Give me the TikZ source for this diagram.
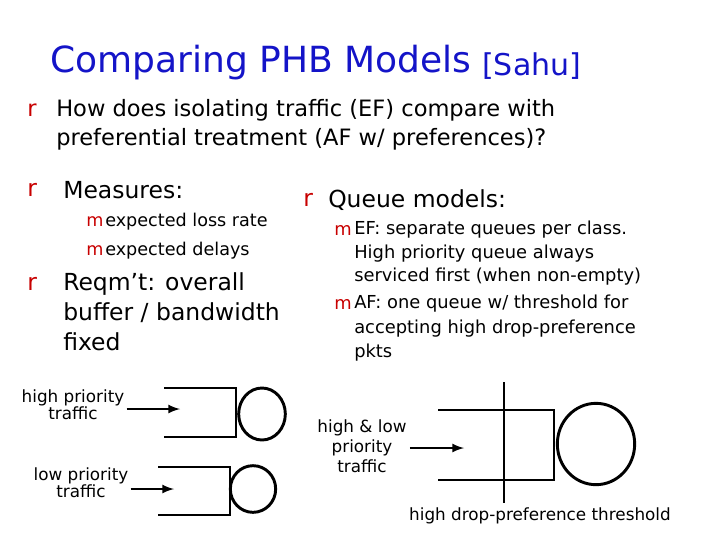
\documentclass[tikz,border=0pt]{standalone}
\usepackage{fontspec}
\usetikzlibrary{shapes.geometric}
\setmainfont{DejaVu Sans}
\definecolor{ttl}{RGB}{20,20,200}
\definecolor{bul}{RGB}{200,0,0}
\begin{document}
\begin{tikzpicture}[x=0.75pt,y=-0.75pt,
  t/.style={anchor=west,inner sep=0pt},
  bl/.style={t,text=bul},
  q/.style={line width=2.2pt},
  arr/.style={line width=2pt,-latex}]
\useasboundingbox (0,0) rectangle (720,540);
% title
\node[t,text=ttl,font=\fontsize{27}{30}\selectfont] (title) at (50,63) {Comparing PHB Models};
\node[t,text=ttl,font=\fontsize{22.5}{25}\selectfont] (sahu) at (482,66) {[Sahu]};
% bullets
\begin{scope}[font=\fontsize{16.9}{19}\selectfont]
\node[bl] (b1) at (27,110) {r};
\node[t] (l1) at (56,110) {How does isolating traffic (EF) compare with};
\node[t] (l2) at (56,139) {preferential treatment (AF w/ preferences)?};
\end{scope}
\begin{scope}[font=\fontsize{17.6}{20}\selectfont]
\node[bl] (b2) at (27,190) {r};
\node[t] (m1) at (63,190) {Measures:};
\node[bl] (b3) at (27,284) {r};
\node[t] (r1) at (63,284) {Reqm't: overall};
\node[t] (r2) at (63,313) {buffer / bandwidth};
\node[t] (r3) at (63,342) {fixed};
\node[bl] (b4) at (303,200) {r};
\node[t] (qm) at (328,200) {Queue models:};
\end{scope}
\begin{scope}[font=\fontsize{13.2}{15}\selectfont]
\node[bl] (s1) at (86,222) {m};
\node[t] (e1) at (105,222) {expected loss rate};
\node[bl] (s2) at (86,251) {m};
\node[t] (e2) at (105,251) {expected delays};
\end{scope}
\begin{scope}[font=\fontsize{13.4}{15}\selectfont]
\node[bl] (s3) at (334,230) {m};
\node[t] (f1) at (354,230) {EF: separate queues per class.};
\node[t] (f2) at (354,254) {High priority queue always};
\node[t] (f3) at (354,277) {serviced first (when non-empty)};
\node[bl] (s4) at (334,304) {m};
\node[t] (a1) at (354,304) {AF: one queue w/ threshold for};
\node[t] (a2) at (354,329) {accepting high drop-preference};
\node[t] (a3) at (354,353) {pkts};
\end{scope}
% queues
\begin{scope}[font=\fontsize{12.6}{15}\selectfont]
\node[inner sep=0pt,align=center] (hp) at (73,405) {high priority\\[-2pt]traffic};
\node[inner sep=0pt,align=center] (lp) at (81,483) {low priority\\[-2pt]traffic};
\node[inner sep=0pt,align=center] (hl) at (362,446) {high \& low\\[0pt]priority\\[0pt]traffic};
\node[inner sep=0pt] (th) at (540,516) {high drop-preference threshold};
\end{scope}
\draw[q] (164,388) -- (236,388) -- (236,437) -- (164,437);
\node[draw,q,ellipse,minimum width=35pt,minimum height=39pt,inner sep=0pt] (c1) at (262,414) {};
\coordinate (h1) at (180,409);
\draw[arr] (hp.east|-h1) ++(2,0) -- (h1);

\draw[q] (158,467) -- (230,467) -- (230,515) -- (158,515);
\node[draw,q,ellipse,minimum width=34pt,minimum height=35pt,inner sep=0pt] (c2) at (253,489) {};
\coordinate (h2) at (174,489);
\draw[arr] (lp.east|-h2) ++(2,0) -- (h2);

\draw[q] (438,410) -- (554,410) -- (554,480) -- (438,480);
\draw[q] (504,382) -- (504,503);
\node[draw,q,ellipse,minimum width=58pt,minimum height=61pt,inner sep=0pt] (c3) at (596,444) {};
\coordinate (h3) at (464,448);
\draw[arr] (hl.east|-h3) ++(3,0) -- (h3);
\end{tikzpicture}
\end{document}
